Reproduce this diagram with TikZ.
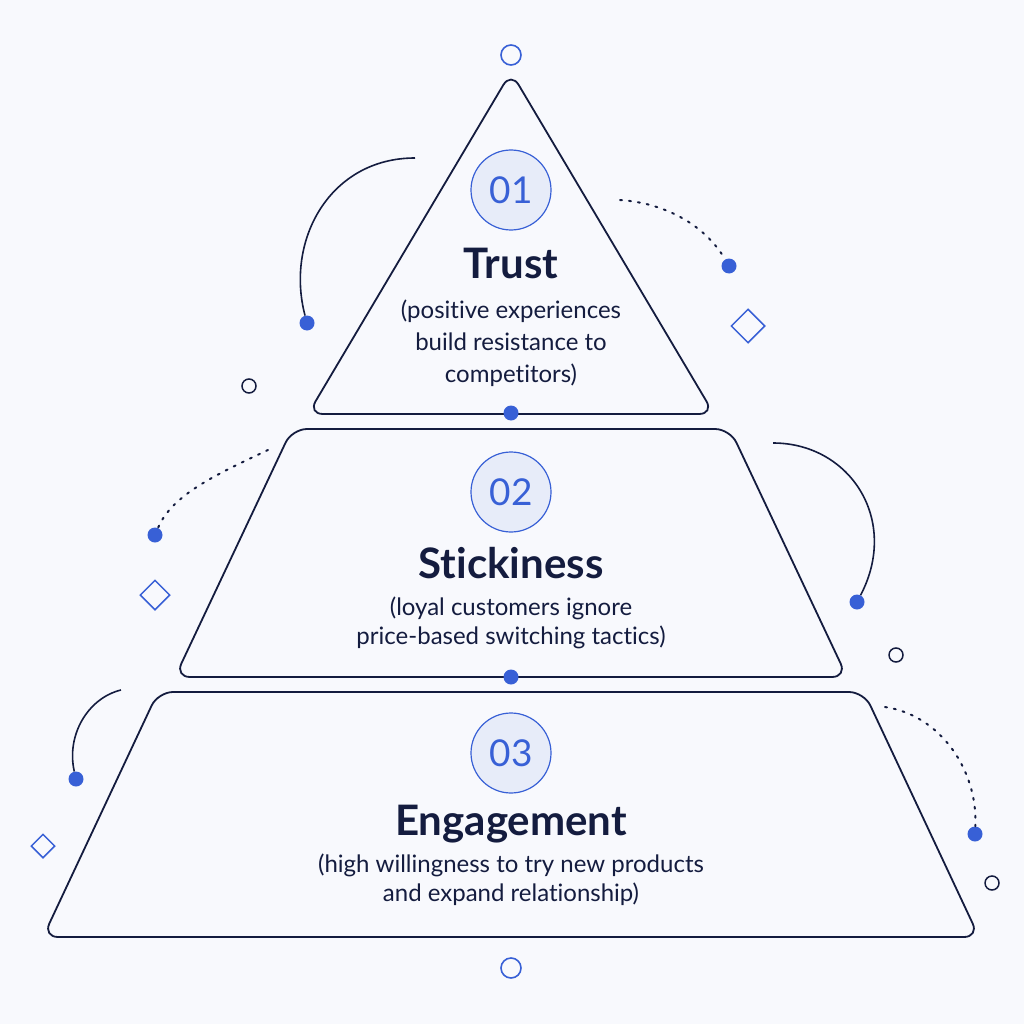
\documentclass[tikz,border=0pt]{standalone}
\usepackage{fontspec}
\setmainfont{Lato}[Ligatures = NoCommon]
\usetikzlibrary{shapes.geometric}
\definecolor{ink}{HTML}{141C3F}
\definecolor{accent}{HTML}{3860D6}
\definecolor{paper}{HTML}{F8F9FD}
\definecolor{badgebg}{HTML}{E7ECF9}
\begin{document}
\begin{tikzpicture}
[
x = 1pt, y = -1pt,
layer/.style = {draw = ink, line width = 1.8pt, fill = paper, rounded corners = 15pt, line join = round},
badge/.style = {circle, draw = accent, line width = 1.2pt, fill = badgebg, minimum size = 80pt, inner sep = 0pt, text = accent, font = \fontsize{37}{37}\selectfont},
heading/.style = {text = ink, inner sep = 0pt, anchor = base, font = \bfseries\fontsize{42}{42}\selectfont},
caption/.style = {text = ink, inner sep = 0pt, anchor = north, align = center, font = \fontsize{24}{29}\selectfont},
dot/.style = {circle, fill = accent, inner sep = 0pt, minimum size = 15pt},
ring/.style = {circle, draw = accent, line width = 1.6pt, inner sep = 0pt, minimum size = 20pt},
pin/.style = {circle, draw = ink, line width = 1.5pt, inner sep = 0pt, minimum size = 14pt},
gem/.style = {diamond, draw = accent, line width = 1.5pt, inner sep = 0pt, minimum size = 34pt},
curve/.style = {draw = ink, line width = 1.6pt},
dotcurve/.style = {draw = ink, line width = 2pt, line cap = round, dash pattern = on 2pt off 7pt}
]
    \fill[paper] (0,0) rectangle (1024,1024);

    % pyramid layers
    \path[layer] (511,72) -- (714,414) -- (308,414) -- cycle;
    \path[layer] (292,429) -- (730,429) -- (847,677) -- (175,677) -- cycle;
    \path[layer] (158,692) -- (864,692) -- (979,937) -- (43,937) -- cycle;

    \node[badge] (n1) at (511,190) {01};
    \node[heading] (trust) at (511,278) {Trust};
    \node[caption, font = \fontsize{24}{32}\selectfont] (trustnote) at (511,300) {(positive experiences\\build resistance to\\competitors)};

    \node[badge] (n2) at (511,492) {02};
    \node[heading] (stick) at (511,578) {Stickiness};
    \node[caption] (sticknote) at (511,597) {(loyal customers ignore\\price-based switching tactics)};

    \node[badge] (n3) at (511,753) {03};
    \node[heading] (engage) at (511,835) {Engagement};
    \node[caption] (engagenote) at (511,854) {(high willingness to try new products\\and expand relationship)};

    \node[dot] (join1) at (511,413) {};
    \node[dot] (join2) at (511,677) {};
    \node[ring] (top) at (511,55) {};
    \node[ring] (bottom) at (511,968) {};

    % side decorations
    \node[dot] (d1) at (307,323) {};
    \node[dot] (d2) at (729,266) {};
    \node[dot] (d3) at (155,535) {};
    \node[dot] (d4) at (857,602) {};
    \node[dot] (d5) at (76,779) {};
    \node[dot] (d6) at (975,834) {};
    \coordinate (s1) at (415,158);
    \coordinate (s2) at (620,200);
    \coordinate (s3) at (268,450);
    \coordinate (s4) at (773,443);
    \coordinate (s5) at (121,690);
    \coordinate (s6) at (885,707);

    \node[gem] (g1) at (748,326) {};
    \node[gem, minimum size = 30pt] (g2) at (155,595) {};
    \node[gem, minimum size = 24pt] (g3) at (43,846) {};
    \node[pin] (p1) at (249,386) {};
    \node[pin] (p2) at (896,655) {};
    \node[pin] (p3) at (992,883) {};

    \draw[curve] (s1) .. controls (330,158) and (285,240) .. (d1);
    \draw[dotcurve] (s2) .. controls (665,203) and (705,225) .. (d2);
    \draw[dotcurve] (s3) .. controls (215,475) and (172,495) .. (d3);
    \draw[curve] (s4) .. controls (850,443) and (900,520) .. (d4);
    \draw[curve] (s5) .. controls (88,698) and (66,735) .. (d5);
    \draw[dotcurve] (s6) .. controls (940,715) and (978,770) .. (d6);
\end{tikzpicture}
\end{document}
